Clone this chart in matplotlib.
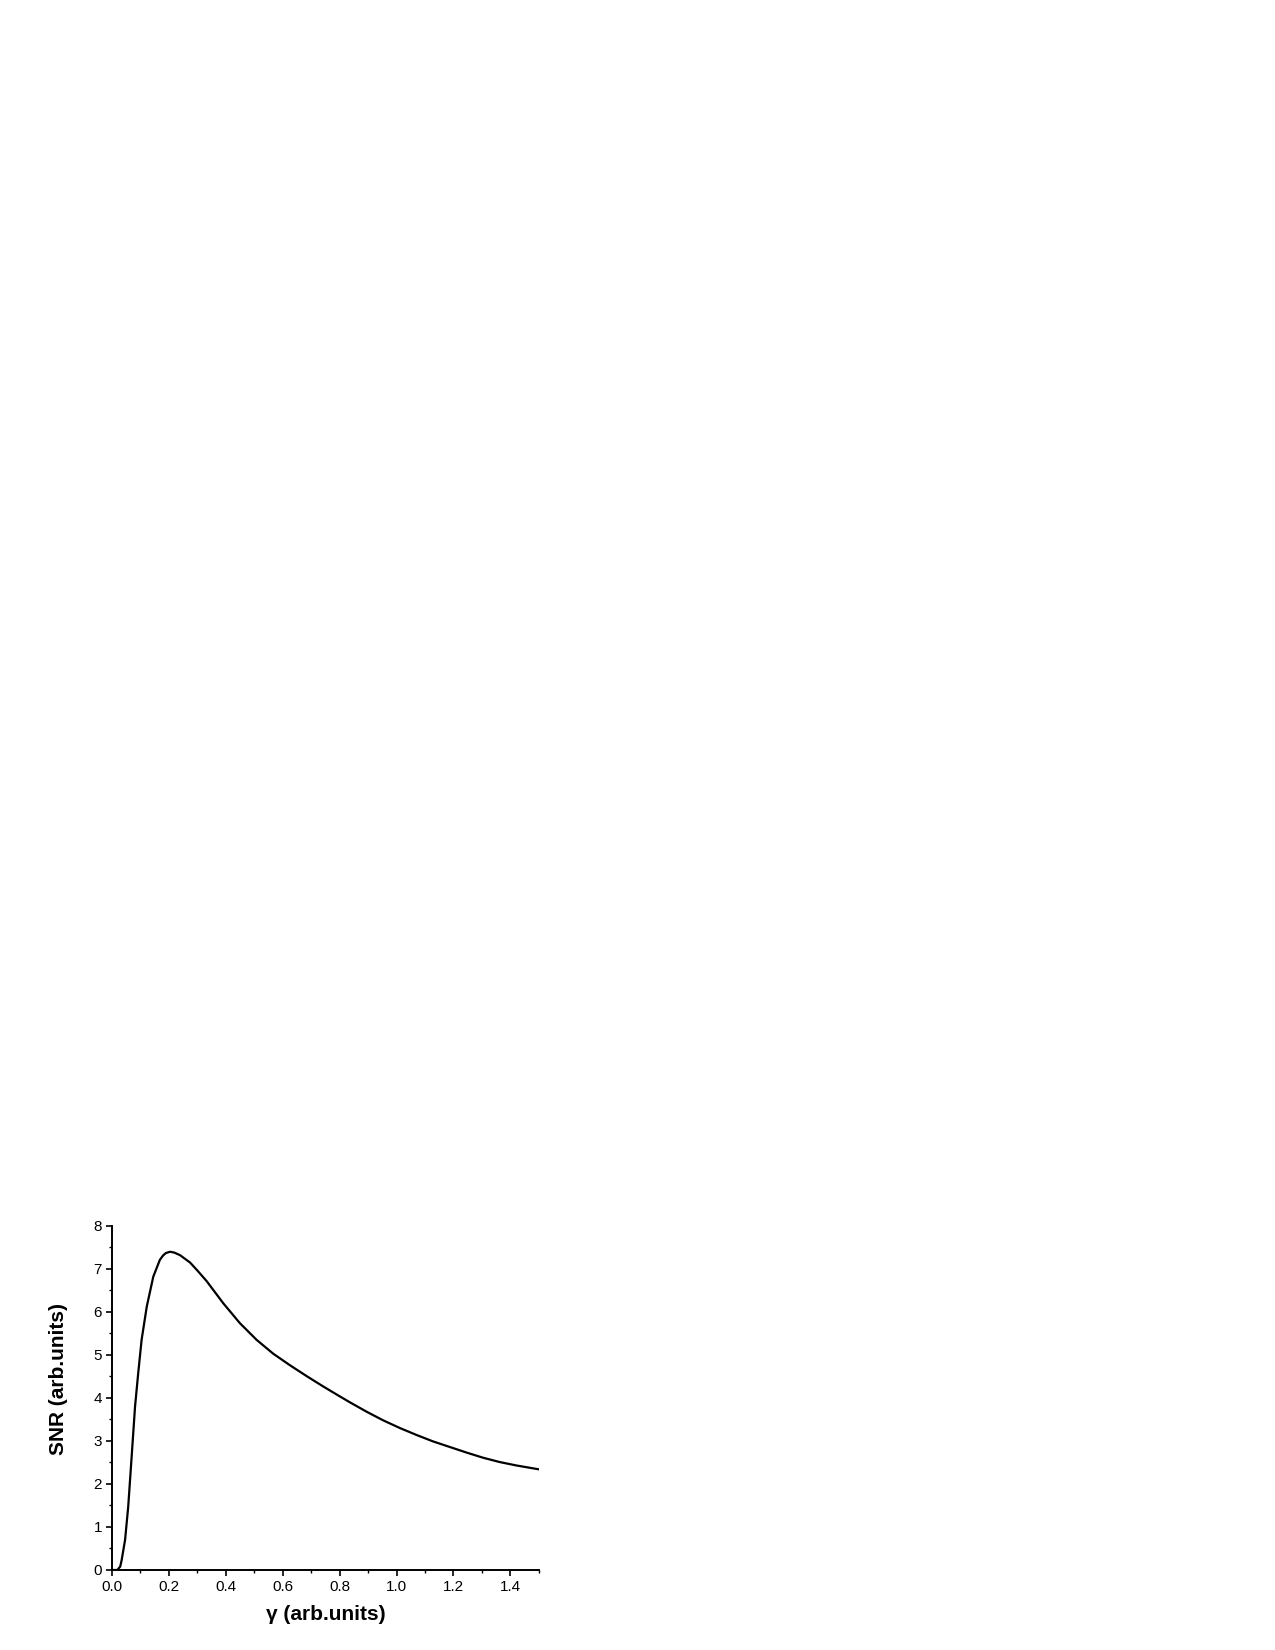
import numpy as np
import matplotlib
matplotlib.use("Agg")
import matplotlib.pyplot as plt
from matplotlib.ticker import MultipleLocator

plt.rcParams['font.family'] = ['Liberation Sans', 'DejaVu Sans']

# values
gamma = [0.0, 0.02, 0.03, 0.035, 0.047, 0.058, 0.07, 0.082, 0.093, 0.105,
         0.123, 0.146, 0.169, 0.18, 0.19, 0.205, 0.22, 0.24, 0.275, 0.30,
         0.333, 0.392, 0.45, 0.509, 0.567, 0.626, 0.684, 0.742, 0.795, 0.836,
         0.895, 0.953, 1.012, 1.07, 1.128, 1.187, 1.246, 1.304, 1.362, 1.421,
         1.5]
snr = [0.0, 0.0, 0.08, 0.23, 0.70, 1.47, 2.63, 3.80, 4.57, 5.35,
       6.12, 6.82, 7.21, 7.31, 7.37, 7.40, 7.38, 7.32, 7.15, 6.97,
       6.72, 6.20, 5.74, 5.35, 5.03, 4.76, 4.51, 4.27, 4.06, 3.90,
       3.68, 3.48, 3.30, 3.14, 2.99, 2.86, 2.73, 2.61, 2.51, 2.43,
       2.34]

x_ticks = [0.0, 0.2, 0.4, 0.6, 0.8, 1.0, 1.2, 1.4]
y_ticks = [0, 1, 2, 3, 4, 5, 6, 7, 8]

fig = plt.figure(figsize=(12.75, 16.5), dpi=100)
ax = fig.add_axes([0.0876, 0.0485, 0.3351, 0.2085])

ax.plot(gamma, snr, color='black', lw=1.6)

ax.set_xlim(0, 1.5)
ax.set_ylim(0, 8)
ax.set_xticks(x_ticks)
ax.set_xticklabels(['%.1f' % v for v in x_ticks])
ax.set_yticks(y_ticks)
ax.xaxis.set_minor_locator(MultipleLocator(0.1))
ax.yaxis.set_minor_locator(MultipleLocator(0.5))

for s in ['top', 'right']:
    ax.spines[s].set_visible(False)
for s in ['left', 'bottom']:
    ax.spines[s].set_linewidth(1.4)

ax.tick_params(which='major', direction='out', length=4, width=1.2,
               labelsize=11, pad=3)
ax.tick_params(which='minor', direction='out', length=2.5, width=1.0)

ax.set_xlabel('γ (arb.units)', fontsize=15, fontweight='bold')
ax.set_ylabel('SNR (arb.units)', fontsize=15, fontweight='bold')
ax.xaxis.set_label_coords(0.5, -0.102)
ax.yaxis.set_label_coords(-0.102, 0.555)

fig.savefig('out.png', dpi=100)
